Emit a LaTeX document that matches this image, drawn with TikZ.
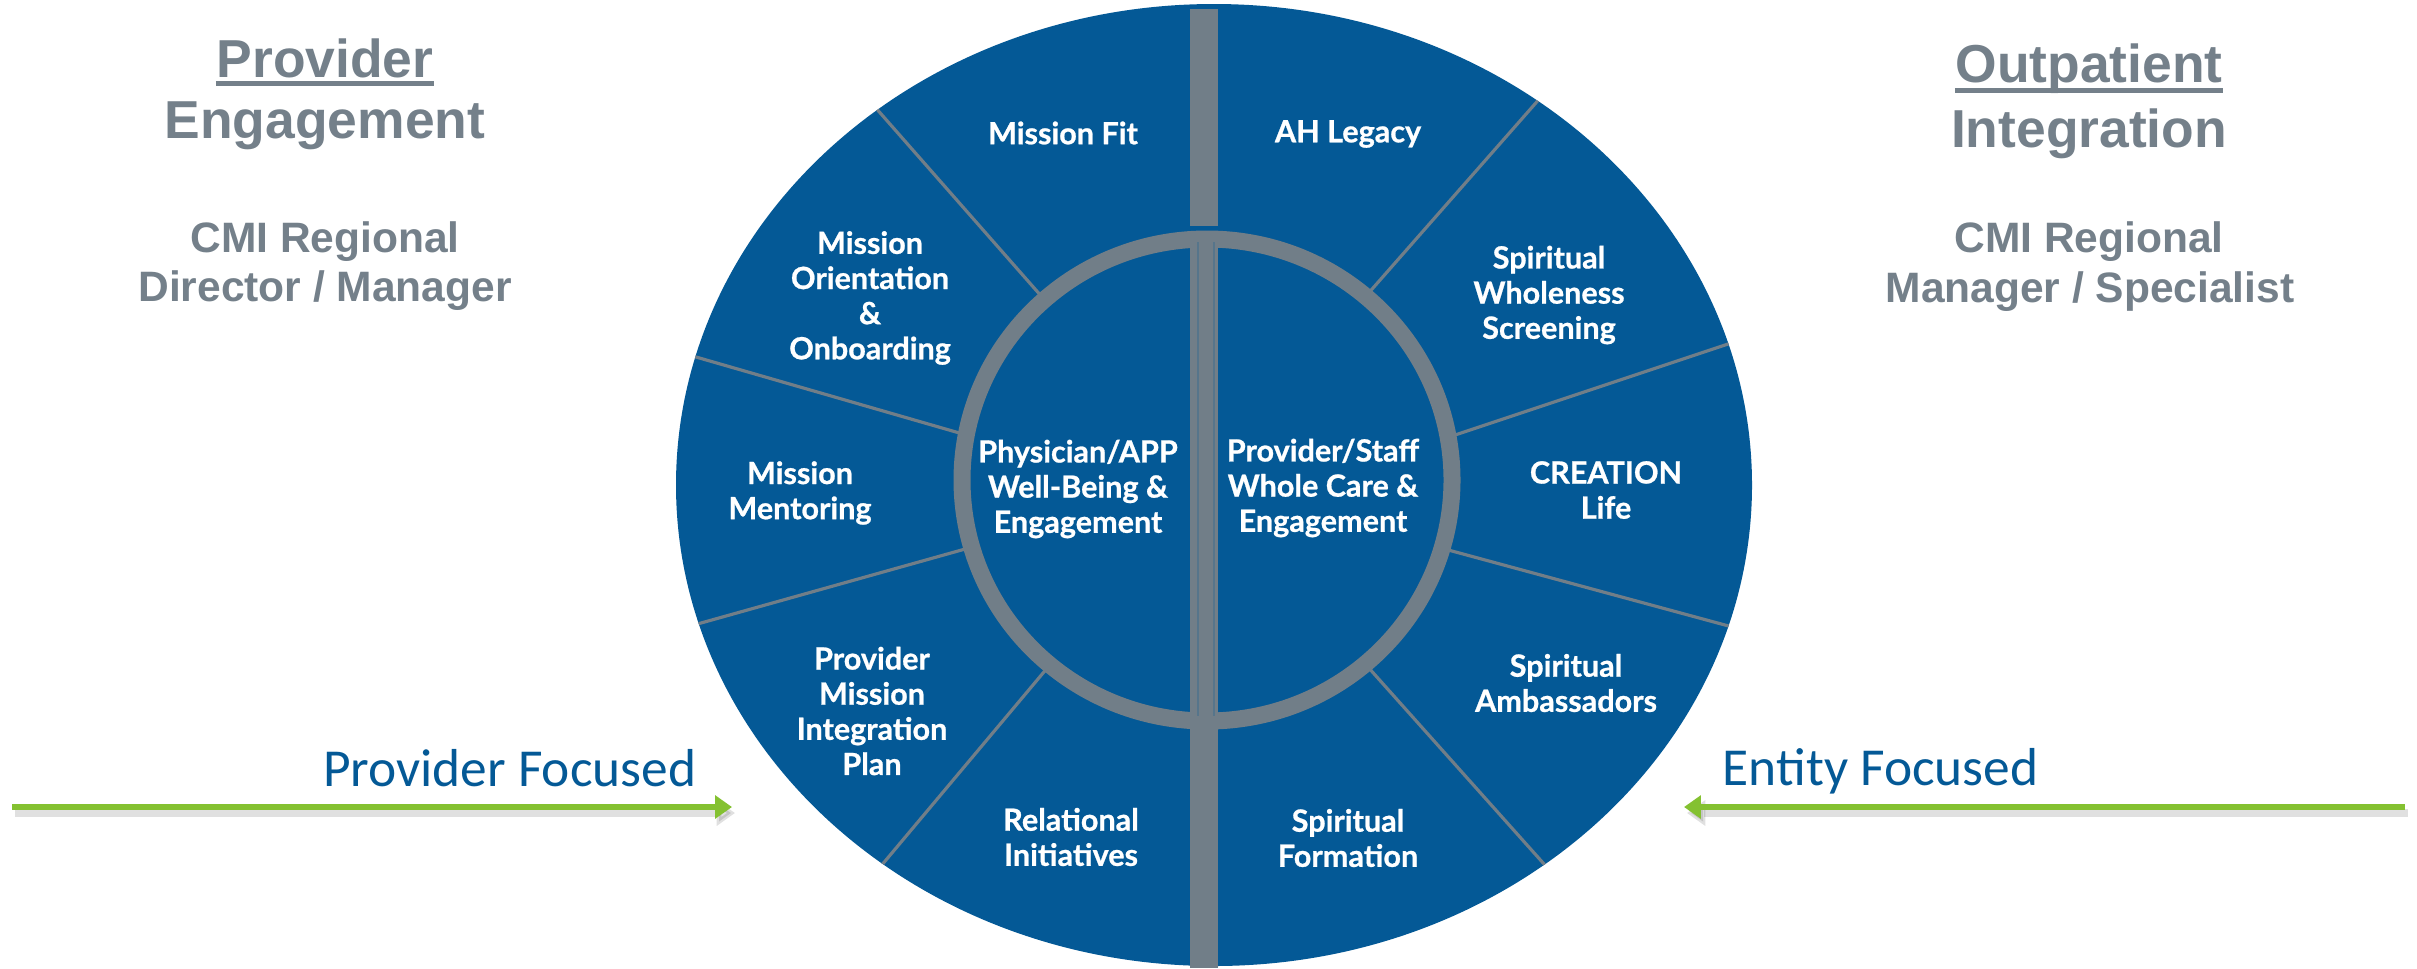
\documentclass[tikz,border=0pt]{standalone}
\usepackage{fontspec}
\setmainfont{Liberation Sans}
\newfontfamily\segfont[BoldFeatures={FakeBold=0.8}]{Lato}
\newfontfamily\focusfont{Carlito}
\usetikzlibrary{arrows.meta,calc}
\definecolor{wheelblue}{RGB}{4,89,150}
\definecolor{ringgray}{RGB}{113,126,136}
\definecolor{headgray}{RGB}{116,128,138}
\definecolor{arrowgreen}{RGB}{132,193,49}
\tikzset{
  seg/.style={align=center,text=white,inner sep=0pt,font=\segfont\bfseries\fontsize{8.7}{10}\selectfont},
  hd/.style={text=headgray,inner sep=0pt,anchor=base,font=\bfseries\fontsize{15.2}{18}\selectfont},
  sub/.style={text=headgray,inner sep=0pt,anchor=base,font=\bfseries\fontsize{12.1}{14}\selectfont},
  focus/.style={text=wheelblue,inner sep=0pt,font=\focusfont\fontsize{15.2}{17}\selectfont},
  spoke/.style={draw=ringgray,line width=0.9pt},
  bar/.style={fill=ringgray},
  uline/.style={draw=headgray,line width=1.4pt},
  garr/.style={draw=arrowgreen,line width=1.7pt,-{Triangle[length=4.8pt,width=6.4pt]}},
  gshade/.style={draw=black,opacity=0.12,line width=2.4pt,-{Triangle[length=5.2pt,width=7pt]}},
}

\begin{document}
\begin{tikzpicture}[x=0.1mm,y=-0.1mm]
 \useasboundingbox (0,0) rectangle (2417,968);
 % outer wheel and its dividers
 \coordinate (w) at (1214,485); \coordinate (c) at (1207,480);
 \fill[wheelblue] (w) ellipse [x radius=538,y radius=481];
 \begin{scope}
  \clip (w) ellipse [x radius=538,y radius=481];
  \coordinate (tlI) at (1035,289); \coordinate (tlO) at (882,115);
  \coordinate (trI) at (1373,288); \coordinate (trO) at (1534,105);
  \coordinate (luI) at (956,432);  \coordinate (luO) at (696,357);
  \coordinate (ruI) at (1464,432); \coordinate (ruO) at (1722,346);
  \coordinate (llI) at (958,551);  \coordinate (llO) at (701,623);
  \coordinate (rlI) at (1452,551); \coordinate (rlO) at (1725,625);
  \coordinate (blI) at (1038,679); \coordinate (blO) at (886,860);
  \coordinate (brI) at (1376,676); \coordinate (brO) at (1544,864);
  \draw[spoke] ($(tlO)!1.05!(tlI)$)--($(tlI)!1.1!(tlO)$); \draw[spoke] ($(trO)!1.05!(trI)$)--($(trI)!1.1!(trO)$);
  \draw[spoke] ($(luO)!1.05!(luI)$)--($(luI)!1.1!(luO)$); \draw[spoke] ($(ruO)!1.05!(ruI)$)--($(ruI)!1.1!(ruO)$);
  \draw[spoke] ($(llO)!1.05!(llI)$)--($(llI)!1.1!(llO)$); \draw[spoke] ($(rlO)!1.05!(rlI)$)--($(rlI)!1.1!(rlO)$);
  \draw[spoke] ($(blO)!1.05!(blI)$)--($(blI)!1.1!(blO)$); \draw[spoke] ($(brO)!1.05!(brI)$)--($(brI)!1.1!(brO)$);
 \end{scope}
 % middle bar and inner ring
 \fill[bar] (1190,9) rectangle (1218,226);
 \fill[bar] (1190,238) rectangle (1218,968);
 \draw[ringgray,line width=1.7mm] (c) ellipse [x radius=245,y radius=241];
 \draw[ringgray!75!wheelblue,line width=0.3pt] (1198,242)--(1198,716) (1214,242)--(1214,716);

 % wheel labels
 \node[seg] (misFit) at (1063,133) {Mission Fit};
 \node[seg] (ahLeg) at (1348,134) {AH Legacy};
 \node[seg] (misOri) at (870,298) {Mission\\Orientation\\\&\\Onboarding};
 \node[seg] (spWhole) at (1549,295) {Spiritual\\Wholeness\\Screening};
 \node[seg] (misMent) at (800,493) {Mission\\Mentoring};
 \node[seg] (creLife) at (1606,490) {CREATION\\Life};
 \node[seg] (provPlan) at (872,711) {Provider\\Mission\\Integration\\Plan};
 \node[seg] (spAmb) at (1566,683) {Spiritual\\Ambassadors};
 \node[seg] (relInit) at (1071,837) {Relational\\Initiatives};
 \node[seg] (spForm) at (1348,838) {Spiritual\\Formation};
 \node[seg] (phys) at (1078,489) {Physician/APP\\Well-Being \&\\Engagement};
 \node[seg] (staff) at (1323,488) {Provider/Staff\\Whole Care \&\\Engagement};

 % side headings
 \node[hd] (provT) at (325,77) {Provider};
 \node[hd] (engT) at (325,138) {Engagement};
 \node[sub] (cmiL) at (325,252) {CMI Regional};
 \node[sub] (dirL) at (325,301) {Director / Manager};
 \draw[uline] ([yshift=-1.9pt]provT.base west)--([yshift=-1.9pt]provT.base east);
 \node[hd] (outT) at (2089,82) {Outpatient};
 \node[hd] (intT) at (2089,147) {Integration};
 \node[sub] (cmiR) at (2089,252) {CMI Regional};
 \node[sub] (mgrR) at (2090,302) {Manager / Specialist};
 \draw[uline] ([yshift=-2.3pt]outT.base west)--([yshift=-2.3pt]outT.base east);

 % focus arrows
 \node[focus,anchor=base east] (provF) at (697,786) {Provider Focused};
 \node[focus,anchor=base west] (entF) at (1722,785) {Entity Focused};
 \coordinate (lA) at (12,807); \coordinate (lB) at (732,807);
 \coordinate (rA) at (2405,807); \coordinate (rB) at (1684,807);
 \draw[gshade] ([shift={(3,6)}]lA)--([shift={(3,6)}]lB); \draw[gshade] ([shift={(3,6)}]rA)--([shift={(3,6)}]rB);
 \draw[garr] (lA)--(lB); \draw[garr] (rA)--(rB);
\end{tikzpicture}
\end{document}
